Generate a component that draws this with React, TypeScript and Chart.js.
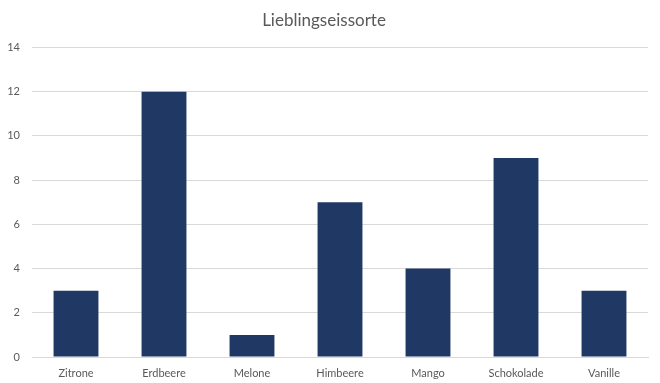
import React, { useEffect, useRef } from "react";
import { Chart, registerables } from "chart.js";

Chart.register(...registerables);

const categories = ["Zitrone", "Erdbeere", "Melone", "Himbeere", "Mango", "Schokolade", "Vanille"];
const values = [3, 12, 1, 7, 4, 9, 3];
const titleText = "Lieblingseissorte";

export default function App() {
  const ref = useRef<HTMLCanvasElement | null>(null);
  useEffect(() => {
    if (!ref.current) return;
    const chart = new Chart(ref.current, {
      type: "bar",
      data: {
        labels: categories,
        datasets: [
          {
            data: values,
            backgroundColor: "#203864",
            borderWidth: 0,
            categoryPercentage: 1,
            barPercentage: 0.51,
          },
        ],
      },
      options: {
        animation: false,
        responsive: false,
        maintainAspectRatio: false,
        layout: { padding: { left: 0, right: 12, top: 0, bottom: 0 } },
        plugins: {
          legend: { display: false },
          tooltip: { enabled: false },
          title: {
            display: true,
            text: titleText,
            color: "#595959",
            font: { family: "Lato", size: 17, weight: "normal" },
            padding: { top: 10, bottom: 17 },
          },
        },
        scales: {
          x: {
            afterFit: (s: any) => {
              s.height = 26;
            },
            grid: { display: false, drawTicks: false },
            border: { display: true, color: "#d9d9d9", width: 1 },
            ticks: { color: "#595959", font: { family: "Lato", size: 11 }, padding: 10 },
          },
          y: {
            min: 0,
            max: 14,
            afterFit: (s: any) => {
              s.width = 32;
            },
            grid: { color: "#d9d9d9", drawTicks: false },
            border: { display: false },
            ticks: {
              stepSize: 2,
              color: "#595959",
              font: { family: "Lato", size: 11 },
              padding: 12,
            },
          },
        },
      },
    });
    return () => chart.destroy();
  }, []);
  return (
    <div style={{ position: "fixed", left: 0, top: 0, width: 660, height: 383, background: "#fff" }}>
      <canvas ref={ref} width={660} height={383} style={{ display: "block" }} />
    </div>
  );
}
